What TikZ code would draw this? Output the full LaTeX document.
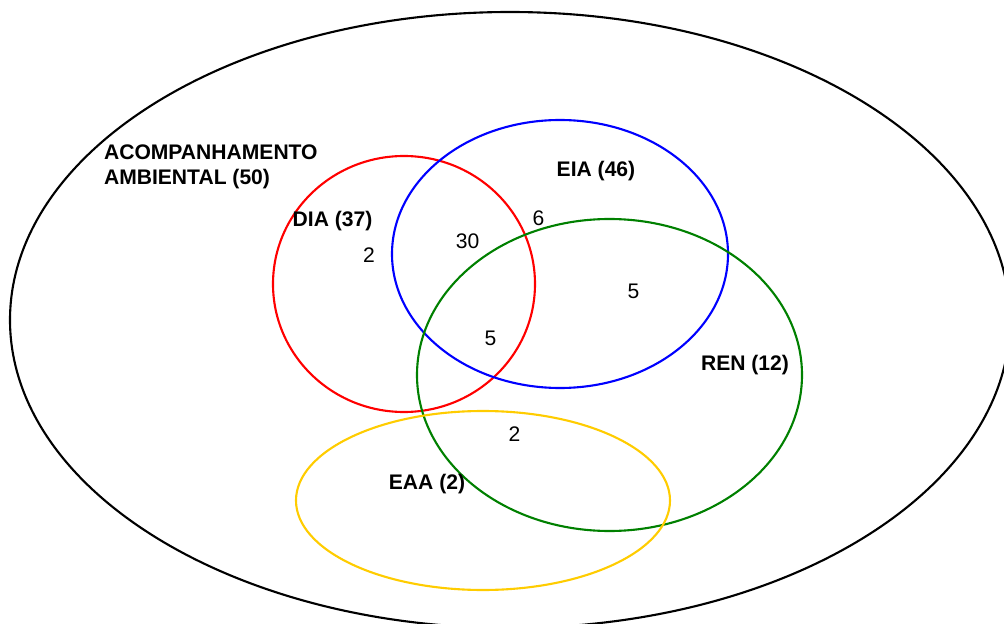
\documentclass[tikz,border=0pt]{standalone}
\usepackage{fontspec}
\setmainfont{Liberation Sans}
\definecolor{rengreen}{RGB}{0,128,0}
\definecolor{eaayellow}{RGB}{255,204,0}

\begin{document}
\begin{tikzpicture}[line width=0.6pt, font=\fontsize{6}{7.3}\selectfont,
  setname/.style={font=\fontsize{6}{7.3}\selectfont\bfseries, inner sep=0pt, anchor=base},
  count/.style={inner sep=0pt, anchor=base}]

\useasboundingbox (0, 0) rectangle (10.04, 6.23);
\clip (0, 0) rectangle (10.04, 6.23);

% sets
\draw[black] (5.10, 3.03) ellipse [x radius=5.00, y radius=3.08];
\draw[red] (4.04, 3.39) ellipse [x radius=1.31, y radius=1.28];
\draw[blue] (5.60, 3.69) ellipse [x radius=1.68, y radius=1.34];
\draw[rengreen] (6.095, 2.48) ellipse [x radius=1.925, y radius=1.56];
\draw[eaayellow] (4.83, 1.225) ellipse [x radius=1.87, y radius=0.895];

% set names
\node[setname, anchor=base west, align=left] (acomp) at (1.03, 4.38) {ACOMPANHAMENTO\\AMBIENTAL (50)};
\node[setname] (dia) at (3.325, 3.963) {DIA (37)};
\node[setname] (eia) at (5.96, 4.463) {EIA (46)};
\node[setname] (ren) at (7.45, 2.53) {REN (12)};
\node[setname] (eaa) at (4.27, 1.34) {EAA (2)};

% counts
\node[count] (nDia) at (3.69, 3.603) {2};
\node[count] (nDiaEia) at (4.677, 3.747) {30};
\node[count] (nEia) at (5.385, 3.97) {6};
\node[count] (nEiaRen) at (6.335, 3.25) {5};
\node[count] (nDiaEiaRen) at (4.905, 2.77) {5};
\node[count] (nRenEaa) at (5.145, 1.82) {2};
\end{tikzpicture}
\end{document}
